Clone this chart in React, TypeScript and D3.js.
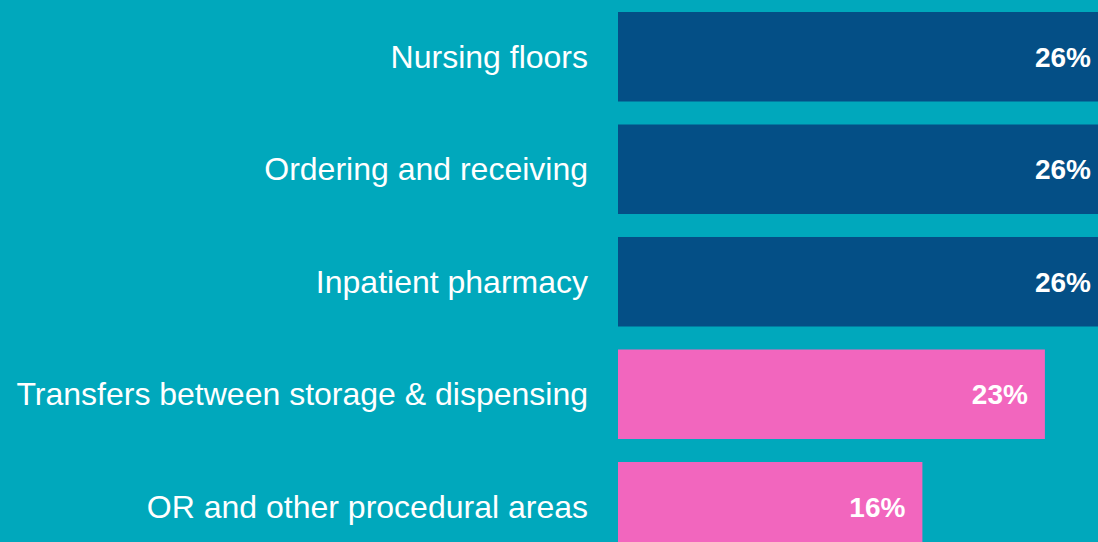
import { useEffect, useRef } from "react";
import * as d3 from "d3";

const categories = [
  "Nursing floors",
  "Ordering and receiving",
  "Inpatient pharmacy",
  "Transfers between storage & dispensing",
  "OR and other procedural areas",
];
const values = [26.4, 26.4, 26.4, 23.0, 16.4];
const groups = ["blue", "blue", "blue", "pink", "pink"];

const WIDTH = 1098;
const HEIGHT = 542;
const palette = {
  background: "#00A8BC",
  blue: "#044F86",
  pink: "#F266BE",
  text: "#FFFFFF",
};

export default function App() {
  const svgRef = useRef<SVGSVGElement | null>(null);

  useEffect(() => {
    if (!svgRef.current) return;
    const svg = d3.select(svgRef.current);
    svg.selectAll("*").remove();

    const rows = categories.map((name, i) => ({ name, value: values[i], group: groups[i] }));

    const x = d3.scaleLinear().domain([0, 26.4]).range([618, 1108]);
    const y = d3
      .scaleBand()
      .domain(categories)
      .range([12, 551.5])
      .paddingInner(0.2044)
      .paddingOuter(0);

    svg
      .append("rect")
      .attr("width", WIDTH)
      .attr("height", HEIGHT)
      .attr("fill", palette.background);

    svg
      .append("g")
      .selectAll("rect")
      .data(rows)
      .join("rect")
      .attr("x", x(0))
      .attr("y", (d) => y(d.name)!)
      .attr("width", (d) => x(d.value) - x(0))
      .attr("height", y.bandwidth())
      .attr("fill", (d) => (d.group === "blue" ? palette.blue : palette.pink));

    svg
      .append("g")
      .selectAll("text")
      .data(rows)
      .join("text")
      .attr("x", 588)
      .attr("y", (d) => y(d.name)! + y.bandwidth() / 2 + 11)
      .attr("text-anchor", "end")
      .attr("fill", palette.text)
      .attr("font-family", "'Liberation Sans', Arial, sans-serif")
      .attr("font-size", 32)
      .text((d) => d.name);

    const fmt = d3.format(".0f");
    svg
      .append("g")
      .selectAll("text")
      .data(rows)
      .join("text")
      .attr("x", (d) => x(d.value) - 17)
      .attr("y", (d) => y(d.name)! + y.bandwidth() / 2 + 10)
      .attr("text-anchor", "end")
      .attr("fill", palette.text)
      .attr("font-family", "'Liberation Sans', Arial, sans-serif")
      .attr("font-weight", "bold")
      .attr("font-size", 28)
      .text((d) => `${fmt(d.value)}%`);
  }, []);

  return (
    <div style={{ position: "fixed", left: 0, top: 0, width: WIDTH, height: HEIGHT, overflow: "hidden" }}>
      <svg ref={svgRef} width={WIDTH} height={HEIGHT} style={{ display: "block" }} />
    </div>
  );
}
